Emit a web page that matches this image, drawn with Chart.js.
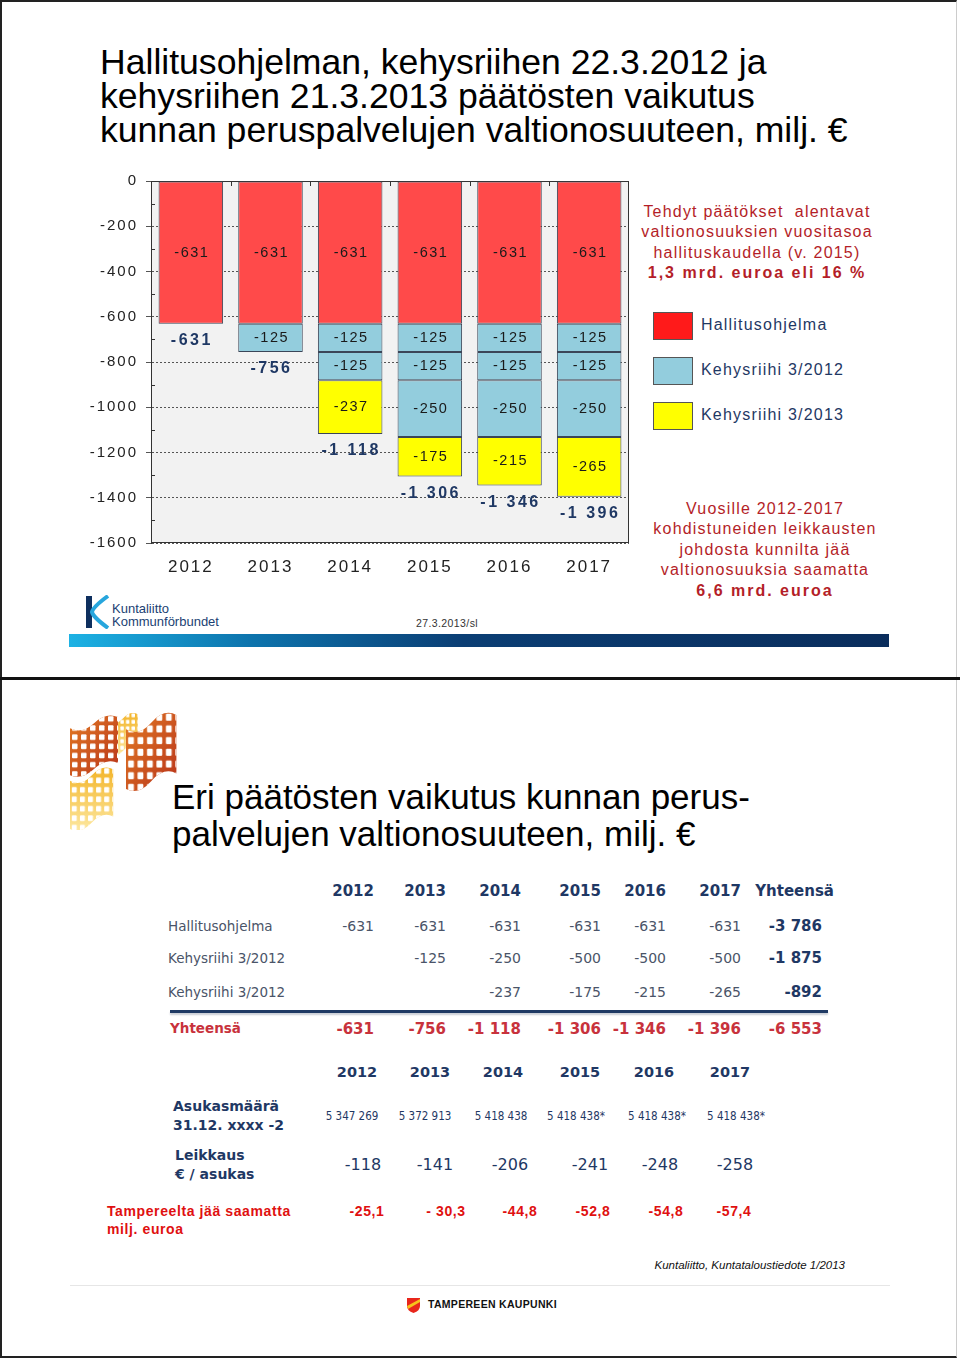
<!DOCTYPE html>
<html>
<head>
<meta charset="utf-8">
<script src="https://cdn.jsdelivr.net/npm/chart.js@4.4.0/dist/chart.umd.min.js"></script>
<style>
  body { margin: 0; background: #fff; font-family: "Liberation Sans", Arial, sans-serif; }
  #page { position: relative; width: 960px; height: 1358px; overflow: hidden; }
  .abs { position: absolute; }
  .t { position: absolute; white-space: pre; line-height: 1.2; }
  #slide1 { left: 0; top: 0; width: 957px; height: 677px; border-top: 2px solid #222; border-left: 2px solid #222; border-right: 1px solid #ccc; box-sizing: border-box; }
  #divider { left: 0; top: 677px; width: 960px; height: 3px; background: #111; }
  #slide2 { left: 0; top: 680px; width: 957px; height: 678px; border-left: 2px solid #222; border-bottom: 2px solid #222; border-right: 1px solid #ccc; box-sizing: border-box; }
  #title1 { left: 100px; top: 45px; font-size: 35.6px; line-height: 34px; color: #000; white-space: pre; }
  #title2 { left: 172px; top: 778px; font-size: 35px; line-height: 37px; color: #000; white-space: pre; }
  #chartBox { left: 60px; top: 164px; width: 575px; height: 421px; }
  .redbox { transform: translateX(-50%); text-align: center; font-size: 16px; line-height: 20.4px; letter-spacing: 1.2px; color: #b41e28; white-space: pre; }
  .redbox b { letter-spacing: 2px; }
  .lgbox { width: 38px; height: 26px; border: 1px solid #555; }
  .lgtxt { font-size: 16px; letter-spacing: 1.2px; color: #1f3864; transform: translateY(-50%); white-space: pre; }
  #grad { left: 69px; top: 634px; width: 820px; height: 13px; background: linear-gradient(to right, #1db2e4 0%, #0d74ad 22%, #0b3e74 48%, #0a2d5c 100%); }
</style>
</head>
<body>
<div id="page">
  <div id="slide1" class="abs"></div>
  <div id="divider" class="abs"></div>
  <div id="slide2" class="abs"></div>

  <div id="title1" class="abs">Hallitusohjelman, kehysriihen 22.3.2012 ja
kehysriihen 21.3.2013 päätösten vaikutus
kunnan peruspalvelujen valtionosuuteen, milj. €</div>

  <div id="chartBox" class="abs"><canvas id="chart"></canvas></div>

  <div class="abs redbox" style="left:757px;top:202px;">Tehdyt päätökset  alentavat
valtionosuuksien vuositasoa
hallituskaudella (v. 2015)
<b>1,3 mrd. euroa eli 16 %</b></div>

  <div class="abs lgbox" style="left:653px;top:312px;background:#ff1a1a;"></div>
  <div class="abs lgbox" style="left:653px;top:357px;background:#93cddd;"></div>
  <div class="abs lgbox" style="left:653px;top:402px;background:#ffff00;"></div>
  <div class="abs lgtxt" style="left:701px;top:325px;">Hallitusohjelma</div>
  <div class="abs lgtxt" style="left:701px;top:370px;">Kehysriihi 3/2012</div>
  <div class="abs lgtxt" style="left:701px;top:415px;">Kehysriihi 3/2013</div>

  <div class="abs redbox" style="left:765px;top:499px;">Vuosille 2012-2017
kohdistuneiden leikkausten
johdosta kunnilta jää
valtionosuuksia saamatta
<b>6,6 mrd. euroa</b></div>

  <svg class="abs" style="left:84px;top:595px;" width="28" height="34" viewBox="0 0 28 34">
    <rect x="2" y="1" width="6" height="32" fill="#0e2f5e"/>
    <path d="M24 1 Q 9 12 8 17 Q 9 22 24 33" fill="none" stroke="#27a6dd" stroke-width="4"/>
  </svg>
  <div class="t" style="left:112px;top:601px;font-size:13px;color:#1b3f73;">Kuntaliitto</div>
  <div class="t" style="left:112px;top:614px;font-size:13px;color:#1b3f73;">Kommunförbundet</div>
  <div class="t" style="left:416px;top:617px;font-size:10.5px;color:#333;letter-spacing:0.4px;">27.3.2013/sl</div>
  <div id="grad" class="abs"></div>

  <svg class="abs" style="left:66px;top:706px;" width="114" height="124" viewBox="0 0 114 124">
    <defs>
      <pattern id="holes" width="9" height="9" patternUnits="userSpaceOnUse">
        <rect x="2" y="2" width="5.5" height="5.5" rx="1" fill="#fff"/>
      </pattern>
      <linearGradient id="gr" x1="0" y1="0" x2="1" y2="1">
        <stop offset="0" stop-color="#e27a24"/><stop offset="1" stop-color="#b8331a"/>
      </linearGradient>
      <linearGradient id="gy" x1="0" y1="0" x2="0" y2="1">
        <stop offset="0" stop-color="#f3b428"/><stop offset="1" stop-color="#fde8a0"/>
      </linearGradient>
      <path id="flag" d="M0 14 Q 12 20 24 9 Q 36 -2 48 3 L48 48 Q 36 43 24 54 Q 12 65 0 60 Z"/>
    </defs>
    <g transform="translate(42,6) scale(0.62,0.72)"><use href="#flag" fill="url(#gy)"/><use href="#flag" fill="url(#holes)"/></g>
    <g transform="translate(4,8) scale(1,1.02)"><use href="#flag" fill="url(#gr)"/><use href="#flag" fill="url(#holes)"/></g>
    <g transform="translate(60,5) scale(1.05,1.3)"><use href="#flag" fill="url(#gr)"/><use href="#flag" fill="url(#holes)"/></g>
    <g transform="translate(4,60) scale(0.9,1.05)"><use href="#flag" fill="url(#gy)"/><use href="#flag" fill="url(#holes)"/></g>
  </svg>

  <div id="title2" class="abs">Eri päätösten vaikutus kunnan perus-
palvelujen valtionosuuteen, milj. €</div>

  <div class="abs" style="left:170px;top:1010px;width:658px;height:3px;background:#1f3a64;box-shadow:0 2px 2px #c8ccd4;"></div>
  <div class="abs" style="left:70px;top:1285px;width:820px;height:1px;background:#e6e6e6;"></div>

  <svg class="abs" style="left:406px;top:1297px;" width="15" height="17" viewBox="0 0 15 17">
    <path d="M1 1 H14 V9 Q14 14 7.5 16 Q1 14 1 9 Z" fill="#e8261c"/>
    <path d="M1 9 L14 2 V5 L2 12 Z" fill="#f6c21b"/>
  </svg>
  <div class="t" style="left:428px;top:1298px;font-size:10.5px;font-weight:bold;color:#111;letter-spacing:0.3px;">TAMPEREEN KAUPUNKI</div>

  <div id="tables"></div>
</div>

<script>
// chart data (milj. €)
const years = ['2012', '2013', '2014', '2015', '2016', '2017'];
const hallitusohjelma = [-631, -631, -631, -631, -631, -631];
const kehys2012Osa1 = [null, -125, -125, -125, -125, -125];
const kehys2012Osa2 = [null, null, -125, -125, -125, -125];
const kehys2012Osa3 = [null, null, null, -250, -250, -250];
const kehys2013 = [null, null, -237, -175, -215, -265];
const yhteensa = [-631, -756, -1118, -1306, -1346, -1396];

// table data
const tHallitus = [-631, -631, -631, -631, -631, -631];
const tKehys2012 = [null, -125, -250, -500, -500, -500];
const tKehys2013 = [null, null, -237, -175, -215, -265];
const tSummat = [-3786, -1875, -892, -6553];
const asukasmaara = [5347269, 5372913, 5418438, 5418438, 5418438, 5418438];
const asukasArvio = [false, false, false, true, true, true];
const leikkausPerAsukas = [-118, -141, -206, -241, -248, -258];
const tampereMenetys = ['-25,1', '- 30,3', '-44,8', '-52,8', '-54,8', '-57,4'];

function fmt(v) {
  const s = String(Math.abs(v)).replace(/\B(?=(\d{3})+(?!\d))/g, ' ');
  return (v < 0 ? '-' : '') + s;
}

const FONT = '"Liberation Sans", Arial, sans-serif';

const chartDeco = {
  id: 'chartDeco',
  beforeDraw(chart) {
    const { ctx, chartArea: a } = chart;
    ctx.save();
    ctx.fillStyle = '#f2f2f2';
    ctx.fillRect(a.left, a.top, a.right - a.left, a.bottom - a.top);
    ctx.restore();
    ctx.letterSpacing = '2px';
  },
  beforeDatasetsDraw(chart) {
    const { ctx, chartArea: a, scales: { y } } = chart;
    ctx.save();
    ctx.strokeStyle = '#333';
    ctx.lineWidth = 1;
    ctx.strokeRect(a.left + 0.5, a.top + 0.5, a.right - a.left - 1, a.bottom - a.top - 1);
    ctx.beginPath();
    for (let v = -100; v > -1600; v -= 200) {
      const py = Math.round(y.getPixelForValue(v)) + 0.5;
      ctx.moveTo(a.left, py);
      ctx.lineTo(a.left + 4, py);
    }
    const w = (a.right - a.left) / years.length;
    for (let i = 1; i < years.length; i++) {
      const px = Math.round(a.left + i * w) + 0.5;
      ctx.moveTo(px, a.top);
      ctx.lineTo(px, a.top + 5);
    }
    ctx.stroke();
    ctx.restore();
  },
  afterDatasetsDraw(chart) {
    const { ctx, scales: { y } } = chart;
    ctx.save();
    ctx.textAlign = 'center';
    ctx.textBaseline = 'middle';
    ctx.letterSpacing = '1.5px';
    ctx.font = '14.5px ' + FONT;
    ctx.fillStyle = '#1a1a1a';
    chart.data.datasets.forEach((ds, i) => {
      chart.getDatasetMeta(i).data.forEach((bar, j) => {
        const v = ds.data[j];
        if (v == null) return;
        ctx.fillText(String(v), bar.x + 1, (bar.y + bar.base) / 2);
      });
    });
    ctx.letterSpacing = '2.5px';
    ctx.font = 'bold 16px ' + FONT;
    ctx.fillStyle = '#1f3864';
    const bars = chart.getDatasetMeta(0).data;
    yhteensa.forEach((t, j) => {
      ctx.fillText(fmt(t), bars[j].x + 1, y.getPixelForValue(t) + 17);
    });
    ctx.restore();
  }
};

new Chart(document.getElementById('chart'), {
  type: 'bar',
  data: {
    labels: years,
    datasets: [
      { label: 'Hallitusohjelma', data: hallitusohjelma, backgroundColor: '#ff4a4a' },
      { label: 'Kehysriihi 3/2012', data: kehys2012Osa1, backgroundColor: '#93cddd' },
      { label: 'Kehysriihi 3/2012', data: kehys2012Osa2, backgroundColor: '#93cddd' },
      { label: 'Kehysriihi 3/2012', data: kehys2012Osa3, backgroundColor: '#93cddd' },
      { label: 'Kehysriihi 3/2013', data: kehys2013, backgroundColor: '#ffff00' }
    ].map(d => Object.assign(d, {
      borderColor: '#3b4658', borderWidth: 1, borderSkipped: false,
      barPercentage: 0.81, categoryPercentage: 1
    }))
  },
  options: {
    responsive: true,
    maintainAspectRatio: false,
    animation: false,
    layout: { padding: { top: 5, right: 6, left: 0, bottom: 0 } },
    plugins: { legend: { display: false }, tooltip: { enabled: false } },
    scales: {
      x: {
        stacked: true,
        grid: { display: false, drawTicks: false },
        border: { display: false },
        ticks: { padding: 14, color: '#222', font: { size: 17, family: FONT }, maxRotation: 0, autoSkip: false },
        afterFit: s => { s.height = 42; }
      },
      y: {
        stacked: true,
        min: -1600,
        max: 0,
        ticks: { stepSize: 200, padding: 8, color: '#222', font: { size: 15, family: FONT }, callback: v => String(v) },
        grid: { color: '#555', lineWidth: 1, tickLength: 5 },
        border: { display: true, color: '#333', width: 1, dash: [2, 2] },
        afterFit: s => { s.width = 91; }
      }
    }
  },
  plugins: [chartDeco]
});

// tables (HTML)
const root = document.getElementById('tables');
function put(text, x, y, style, align) {
  const d = document.createElement('div');
  d.className = 't';
  d.textContent = text;
  d.style.top = y + 'px';
  let tr = 'translateY(-50%)';
  if (align === 'right') d.style.right = (960 - x) + 'px';
  else if (align === 'center') { d.style.left = x + 'px'; tr = 'translate(-50%,-50%)'; }
  else d.style.left = x + 'px';
  d.style.transform = tr;
  d.style.cssText += ';' + style;
  root.appendChild(d);
}

const V = 'font-family:"DejaVu Sans",Verdana,sans-serif;';
const navy = '#1f3864';
const grayTxt = '#4a5468';
const redRow = '#c8323c';
const r1 = [374, 446, 521, 601, 666, 741];
years.forEach((yr, i) => put(yr, r1[i], 891, V + 'font-size:15px;font-weight:bold;color:' + navy, 'right'));
put('Yhteensä', 834, 891, V + 'font-size:15px;font-weight:bold;color:' + navy, 'right');

const rows1 = [
  ['Hallitusohjelma', tHallitus, 926],
  ['Kehysriihi 3/2012', tKehys2012, 958],
  ['Kehysriihi 3/2012', tKehys2013, 992]
];
rows1.forEach(([lab, vals, y], k) => {
  put(lab, 168, y, V + 'font-size:13.5px;color:' + grayTxt);
  vals.forEach((v, i) => { if (v != null) put(fmt(v), r1[i], y, V + 'font-size:14px;color:' + grayTxt, 'right'); });
  put(fmt(tSummat[k]), 822, y, V + 'font-size:15px;font-weight:bold;color:' + navy, 'right');
});
put('Yhteensä', 170, 1028, V + 'font-size:13.5px;font-weight:bold;color:' + redRow);
yhteensa.forEach((v, i) => put(fmt(v), r1[i], 1029, V + 'font-size:15px;font-weight:bold;color:' + redRow, 'right'));
put(fmt(tSummat[3]), 822, 1029, V + 'font-size:15px;font-weight:bold;color:' + redRow, 'right');

const c2 = [357, 430, 503, 580, 654, 730];
years.forEach((yr, i) => put(yr, c2[i], 1073, V + 'font-size:14.5px;font-weight:bold;color:' + navy, 'center'));
put('Asukasmäärä', 173, 1106, V + 'font-size:14px;font-weight:bold;color:' + navy);
put('31.12. xxxx -2', 173, 1125, V + 'font-size:14px;font-weight:bold;color:' + navy);
const cp = [352, 425, 501, 576, 657, 736];
asukasmaara.forEach((v, i) => put(fmt(v) + (asukasArvio[i] ? '*' : ''), cp[i], 1117,
  'font-family:"DejaVu Sans Condensed","DejaVu Sans",sans-serif;font-size:11.5px;color:' + navy, 'center'));
put('Leikkaus', 175, 1155, V + 'font-size:14px;font-weight:bold;color:' + navy);
put('€ / asukas', 175, 1174, V + 'font-size:14px;font-weight:bold;color:' + navy);
const cl = [363, 435, 510, 590, 660, 735];
leikkausPerAsukas.forEach((v, i) => put(fmt(v), cl[i], 1165, V + 'font-size:16px;color:' + navy, 'center'));

const tRed = 'font-size:14px;font-weight:bold;letter-spacing:0.6px;color:#e01010;';
put('Tampereelta jää saamatta', 107, 1211, tRed);
put('milj. euroa', 107, 1229, tRed);
const ct = [367, 446, 520, 593, 666, 734];
tampereMenetys.forEach((s, i) => put(s, ct[i], 1211, tRed, 'center'));

put('Kuntaliitto, Kuntataloustiedote 1/2013', 845, 1266, 'font-size:11.5px;font-style:italic;color:#111;', 'right');
</script>
</body>
</html>
